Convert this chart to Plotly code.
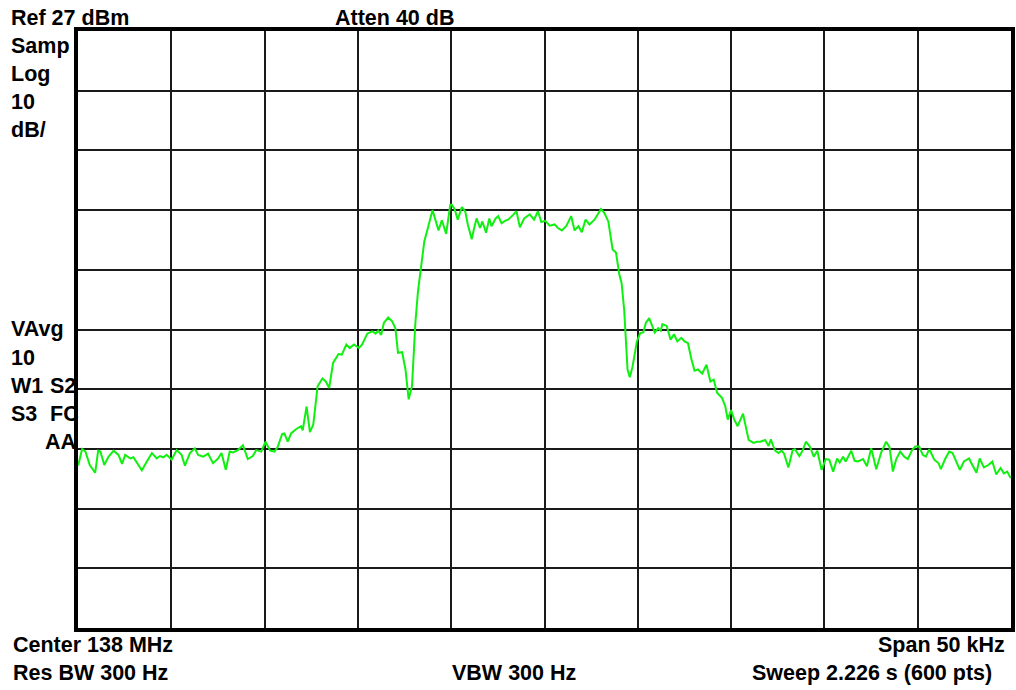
import plotly.graph_objects as go

# ---- data: spectrum trace (offset from 138 MHz centre, kHz) ----
freq_khz = [
    -24.99, -24.78, -24.60, -24.37, -24.08, -23.92, -23.80, -23.59, -23.36, -23.09,
    -22.83, -22.64, -22.47, -22.20, -22.03, -21.84, -21.58, -21.31, -21.04, -20.78,
    -20.61, -20.43, -20.25, -19.98, -19.71, -19.45, -19.27, -19.00, -18.74, -18.56,
    -18.29, -18.03, -17.76, -17.49, -17.31, -17.08, -16.87, -16.69, -16.43, -16.16,
    -15.90, -15.63, -15.45, -15.18, -14.95, -14.70, -14.47, -14.30, -14.06, -13.94,
    -13.76, -13.58, -13.32, -13.05, -12.96, -12.75, -12.57, -12.39, -12.16, -11.90,
    -11.72, -11.54, -11.33, -11.04, -10.86, -10.62, -10.44, -10.21, -9.94, -9.77,
    -9.50, -9.23, -9.05, -8.91, -8.75, -8.61, -8.38, -8.17, -7.99, -7.85,
    -7.63, -7.45, -7.28, -7.10, -6.92, -6.78, -6.62, -6.44, -6.25, -6.00,
    -5.85, -5.68, -5.50, -5.27, -5.05, -4.97, -4.82, -4.65, -4.43, -4.25,
    -4.11, -3.90, -3.77, -3.64, -3.45, -3.33, -3.13, -2.96, -2.84, -2.62,
    -2.48, -2.30, -2.12, -1.95, -1.68, -1.50, -1.32, -1.09, -0.79, -0.56,
    -0.35, -0.17, 0.04, 0.28, 0.54, 0.72, 0.93, 1.16, 1.43, 1.61,
    1.82, 2.00, 2.20, 2.41, 2.68, 3.03, 3.21, 3.42, 3.65, 3.83,
    4.01, 4.13, 4.27, 4.36, 4.45, 4.57, 4.72, 4.95, 5.13, 5.30,
    5.43, 5.61, 5.73, 5.91, 6.09, 6.23, 6.32, 6.55, 6.76, 6.94,
    7.12, 7.33, 7.51, 7.69, 7.86, 8.04, 8.22, 8.45, 8.68, 8.89,
    9.07, 9.25, 9.52, 9.69, 9.82, 10.00, 10.17, 10.35, 10.64, 10.94,
    11.20, 11.38, 11.56, 11.82, 12.01, 12.13, 12.27, 12.36, 12.54, 12.71,
    12.84, 13.07, 13.30, 13.42, 13.66, 13.83, 14.01, 14.22, 14.43, 14.62,
    14.85, 15.07, 15.26, 15.47, 15.68, 15.82, 16.00, 16.14, 16.44, 16.62,
    16.80, 17.07, 17.28, 17.51, 17.78, 18.04, 18.31, 18.49, 18.67, 18.84,
    19.06, 19.28, 19.47, 19.70, 19.87, 20.08, 20.27, 20.44, 20.62, 20.89,
    21.12, 21.24, 21.47, 21.69, 21.87, 22.04, 22.26, 22.48, 22.75, 22.93,
    23.15, 23.32, 23.55, 23.79, 24.00, 24.21, 24.44, 24.62, 24.80, 24.98,
]

level_dbm = [
    -45.8, -43.0, -43.45, -45.7, -47.0, -43.3, -43.45, -45.7, -44.3, -43.3,
    -44.0, -45.5, -44.0, -44.6, -44.4, -45.4, -46.6, -45.1, -43.7, -44.6,
    -44.2, -44.4, -44.0, -44.8, -43.2, -44.0, -45.8, -43.7, -42.9, -44.0,
    -44.3, -43.8, -45.4, -44.6, -43.7, -46.5, -43.45, -43.6, -43.2, -42.4,
    -44.7, -44.2, -43.2, -43.45, -41.8, -43.3, -43.45, -42.7, -40.5, -40.4,
    -41.8, -40.4, -39.7, -39.2, -39.9, -35.9, -40.2, -38.9, -32.5, -31.2,
    -31.7, -32.8, -28.6, -27.1, -27.2, -25.5, -26.1, -25.5, -26.1, -25.5,
    -23.7, -23.3, -23.7, -23.2, -23.9, -21.9, -21.0, -21.6, -22.8, -26.9,
    -26.8, -29.7, -34.7, -32.5, -21.9, -16.6, -12.7, -8.2, -6.0, -3.0,
    -4.6, -6.4, -4.7, -7.0, -2.1, -2.1, -2.8, -4.6, -2.5, -3.2,
    -5.4, -7.9, -6.0, -4.4, -6.0, -4.9, -6.8, -4.4, -5.7, -4.4,
    -4.0, -5.2, -4.8, -4.6, -3.8, -3.2, -5.9, -4.4, -3.7, -4.6,
    -3.2, -5.0, -4.8, -5.6, -5.4, -6.0, -6.4, -5.7, -4.0, -6.4,
    -5.7, -6.7, -4.6, -5.4, -4.6, -2.8, -3.5, -4.9, -9.6, -10.1,
    -13.8, -15.2, -19.7, -24.7, -29.7, -31.0, -29.2, -25.0, -23.6, -23.5,
    -21.9, -21.1, -22.0, -23.5, -22.8, -23.2, -22.1, -22.4, -24.7, -23.8,
    -25.0, -24.4, -25.0, -25.3, -27.8, -29.9, -29.7, -30.4, -28.9, -31.7,
    -31.4, -33.6, -34.5, -35.9, -38.1, -36.5, -38.1, -39.2, -37.1, -41.5,
    -42.0, -41.8, -41.8, -41.5, -42.5, -41.4, -42.6, -43.3, -43.7, -43.3,
    -43.8, -46.1, -43.2, -43.05, -44.2, -43.3, -41.8, -42.6, -44.3, -43.3,
    -46.5, -44.7, -44.8, -46.8, -44.6, -45.3, -44.3, -45.1, -43.3, -45.0,
    -45.1, -44.7, -45.9, -42.9, -46.4, -43.6, -41.8, -42.7, -46.8, -44.8,
    -43.45, -44.3, -44.7, -43.2, -42.6, -42.6, -44.0, -44.3, -43.05, -44.8,
    -45.4, -46.4, -44.7, -43.45, -43.7, -44.8, -46.5, -45.1, -44.6, -45.7,
    -47.0, -44.6, -46.1, -45.7, -45.1, -47.3, -46.2, -47.1, -46.8, -47.9,
]

# ---- instrument settings / axis definitions ----
ref_level = 27          # dBm, top of screen
db_per_div = 10
n_div = 10
span_khz = 50

top_labels = ["Ref 27 dBm", "Atten 40 dB"]
left_labels_top = ["Samp", "Log", "10", "dB/"]
left_labels_mid = ["VAvg", "10", "W1", "S3"]
left_labels_mid2 = ["S2", "FC", "AA"]
bottom_labels = ["Center 138 MHz", "Span 50 kHz", "Res BW 300 Hz", "VBW 300 Hz",
                 "Sweep 2.226 s (600 pts)"]

# ---- layout geometry (pixels) ----
W, H = 1016, 690
ML, MR, MT, MB = 78, 1, 31, 62
PW, PH = W - ML - MR, H - MT - MB
FS = 21.5
FONT = dict(family="Liberation Sans, Arial, Helvetica, sans-serif", size=FS, color="black")


def px_x(px):
    return (px - ML) / PW


def px_y(py):
    return 1 - (py - MT) / PH


annotations = []


def ann(text, px, baseline, xanchor="left"):
    annotations.append(dict(
        text="<b>%s</b>" % text, x=px_x(px), y=px_y(baseline - 0.36 * FS),
        xref="paper", yref="paper", xanchor=xanchor, yanchor="middle",
        showarrow=False, font=FONT, borderpad=0,
    ))


ann(top_labels[0], 10, 26)
ann(top_labels[1], 335, 26)
for i, t in enumerate(left_labels_top):
    ann(t, 10, 53.5 + 28 * i)
for i, t in enumerate(left_labels_mid):
    ann(t, 10, 337 + 28.3 * i)
ann(left_labels_mid2[0], 49.3, 393.6)
ann(left_labels_mid2[1], 49.3, 421.9)
ann(left_labels_mid2[2], 76.5, 450.2, xanchor="right")
ann(bottom_labels[0], 11.5, 652.5)
ann(bottom_labels[1], 1010, 652.5, xanchor="right")
ann(bottom_labels[2], 11.5, 680.5)
ann(bottom_labels[3], 453, 680.5)
ann(bottom_labels[4], 997, 680.5, xanchor="right")

fig = go.Figure()
fig.add_trace(go.Scatter(
    x=freq_khz, y=level_dbm, mode="lines",
    line=dict(color="#10F010", width=2),
    hoverinfo="skip", showlegend=False,
))

axis_common = dict(
    showgrid=True, gridcolor="#1a1a1a", gridwidth=2,
    showline=True, linecolor="black", linewidth=3.5, mirror=True,
    showticklabels=False, ticks="", zeroline=False, fixedrange=True,
)
fig.update_layout(
    width=W, height=H,
    margin=dict(l=ML, r=MR, t=MT, b=MB, pad=0),
    paper_bgcolor="white", plot_bgcolor="white",
    xaxis=dict(range=[-span_khz / 2, span_khz / 2], dtick=span_khz / n_div, **axis_common),
    yaxis=dict(range=[ref_level - db_per_div * n_div, ref_level], dtick=db_per_div,
               tick0=ref_level, **axis_common),
    annotations=annotations,
    showlegend=False,
)

fig.write_html(
    "out.html",
    config={"displayModeBar": False},
    post_script="document.body.style.margin='0px';document.body.style.overflow='hidden';",
)
